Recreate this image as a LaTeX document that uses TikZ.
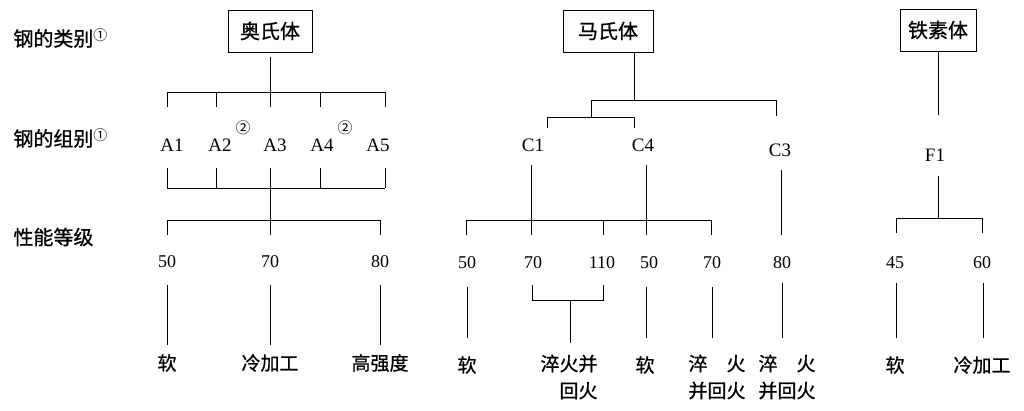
\documentclass[tikz,border=0pt]{standalone}
\usepackage{fontspec}
\setmainfont{Liberation Serif}
\newfontfamily\hei{Noto Sans CJK SC}[FakeBold=0.8]
\newfontfamily\heil{Noto Sans CJK SC}
\usetikzlibrary{positioning}
\newcommand\nmark[1]{\raisebox{6pt}{\heil\fontsize{14}{14}\selectfont #1}}

\begin{document}
\begin{tikzpicture}[x=1pt,y=-1pt,line width=0.9pt,
  cls/.style={draw,font=\hei\fontsize{20}{24}\selectfont,inner xsep=12pt,minimum height=42pt},
  grp/.style={font=\fontsize{19}{22}\selectfont,inner sep=0pt},
  num/.style={font=\fontsize{18}{22}\selectfont,inner sep=0pt},
  lab/.style={font=\hei\fontsize{19}{27}\selectfont,inner sep=0pt,align=center},
  row/.style={font=\hei\fontsize{20}{24}\selectfont,anchor=west,inner sep=0pt},
  sup/.style={font=\heil\fontsize{15}{15}\selectfont,inner sep=0pt}]
\useasboundingbox (0,0) rectangle (1024,411);

% row titles
\node[row] (r1) at (13,38) {钢的类别\nmark{①}};
\node[row] (r2) at (13,138) {钢的组别\nmark{①}};
\node[row] (r3) at (13,237) {性能等级};

% austenite
\node[cls] (aus) at (270,31) {奥氏体};
\node[grp] (A1) at (172,145) {A1};
\node[grp] (A2) at (220,145) {A2};
\node[grp] (A3) at (275,145) {A3};
\node[grp] (A4) at (322,145) {A4};
\node[grp] (A5) at (378,145) {A5};
\node[sup] (A2n) at (243,128) {②};
\node[sup] (A4n) at (345,128) {②};
\foreach \n/\x in {1/167,2/216,3/270,4/320,5/385}{
  \coordinate (at\n) at (\x,92);
  \coordinate (ab\n) at (\x,188);
  \draw (at\n) -- ++(0,15);
  \draw (ab\n) -- ++(0,-20);
}
\draw[shorten <=5pt] (aus) -- (at3);
\draw (at1) -- (at5);
\draw (ab1) -- (ab5);
\coordinate (ap1) at (167,220);
\coordinate (ap5) at (380,220);
\draw (ab3) -- ++(0,47);
\draw (ap1) ++(0,15) -- (ap1) -- (ap5) -- ++(0,15);
\node[num] (a50) at (167,262) {50};
\node[num] (a70) at (270,262) {70};
\node[num] (a80) at (380,262) {80};
\foreach \p in {a50,a70,a80}
  \draw (\p) ++(0,23) -- ++(0,60);
\node[lab] (s1) at (167,363) {软};
\node[lab] (s2) at (270,363) {冷加工};
\node[lab] (s3) at (380,363) {高强度};

% martensite
\node[cls,inner xsep=15pt] (mar) at (608,31) {马氏体};
\coordinate (mt) at (634,100);
\coordinate (mL) at (591,100);
\coordinate (mR) at (776,100);
\coordinate (mc1) at (547,117);
\coordinate (mc4) at (634,117);
\draw (mar.south -| mt) -- (mt);
\draw (mL) -- (mR) -- ++(0,16);
\draw (mL) -- (mL |- mc1);
\draw (mc1) ++(0,11) -- (mc1) -- (mc4) -- ++(0,11);
\node[grp] (C1) at (533,145) {C1};
\node[grp] (C4) at (643,145) {C4};
\node[grp] (C3) at (780,150) {C3};
\coordinate (mp1) at (466,220);
\coordinate (mp3) at (603,220);
\coordinate (mp5) at (711,220);
\draw (C1) ++(-2,20) -- ++(0,70);
\draw (C4) ++(3,20) -- ++(0,70);
\draw (C3) ++(1,20) -- ++(0,65);
\draw (mp1) ++(0,15) -- (mp1) -- (mp5) -- ++(0,15);
\draw (mp3) -- ++(0,15);
\node[num] (m50a) at (467,263) {50};
\node[num] (m70a) at (533,263) {70};
\node[num] (m110) at (602,263) {110};
\node[num] (m50b) at (649,263) {50};
\node[num] (m70b) at (712,263) {70};
\node[num] (m80) at (782,263) {80};
\coordinate (mq) at (570,300);
\draw (m50a) ++(0,24) -- ++(0,51);
\draw (m70a) ++(-1,22) |- ++(71,15) -- ++(0,-15);
\draw (mq) -- ++(0,43);
\draw (m50b) ++(-3,24) -- ++(0,51);
\draw (m70b) ++(0,24) -- ++(0,51);
\draw (m80) ++(0,20) -- ++(0,55);
\node[lab] (m1) at (467,365) {软};
\node[lab,align=right] (m2) at (569,377) {淬火并\\回火};
\node[lab] (m3) at (645,365) {软};
\node[lab] (m4) at (717,377) {\makebox[3em]{淬\hfill 火}\\并回火};
\node[lab] (m5) at (787,377) {\makebox[3em]{淬\hfill 火}\\并回火};

% ferrite
\node[cls,inner xsep=8pt] (fer) at (938,30) {铁素体};
\coordinate (ft) at (938,115);
\coordinate (fb) at (938,218);
\coordinate (fL) at (896,218);
\coordinate (fR) at (982,218);
\draw (fer) -- (ft);
\node[grp] (F1) at (935,155) {F1};
\draw (F1) ++(3,21) -- (fb);
\draw (fL) ++(0,15) -- (fL) -- (fR) -- ++(0,15);
\node[num] (f45) at (895,263) {45};
\node[num] (f60) at (982,263) {60};
\draw (f45) ++(1,20) -- ++(0,55);
\draw (f60) ++(1,20) -- ++(0,55);
\node[lab] (f1) at (895,365) {软};
\node[lab] (f2) at (982,365) {冷加工};
\end{tikzpicture}
\end{document}
